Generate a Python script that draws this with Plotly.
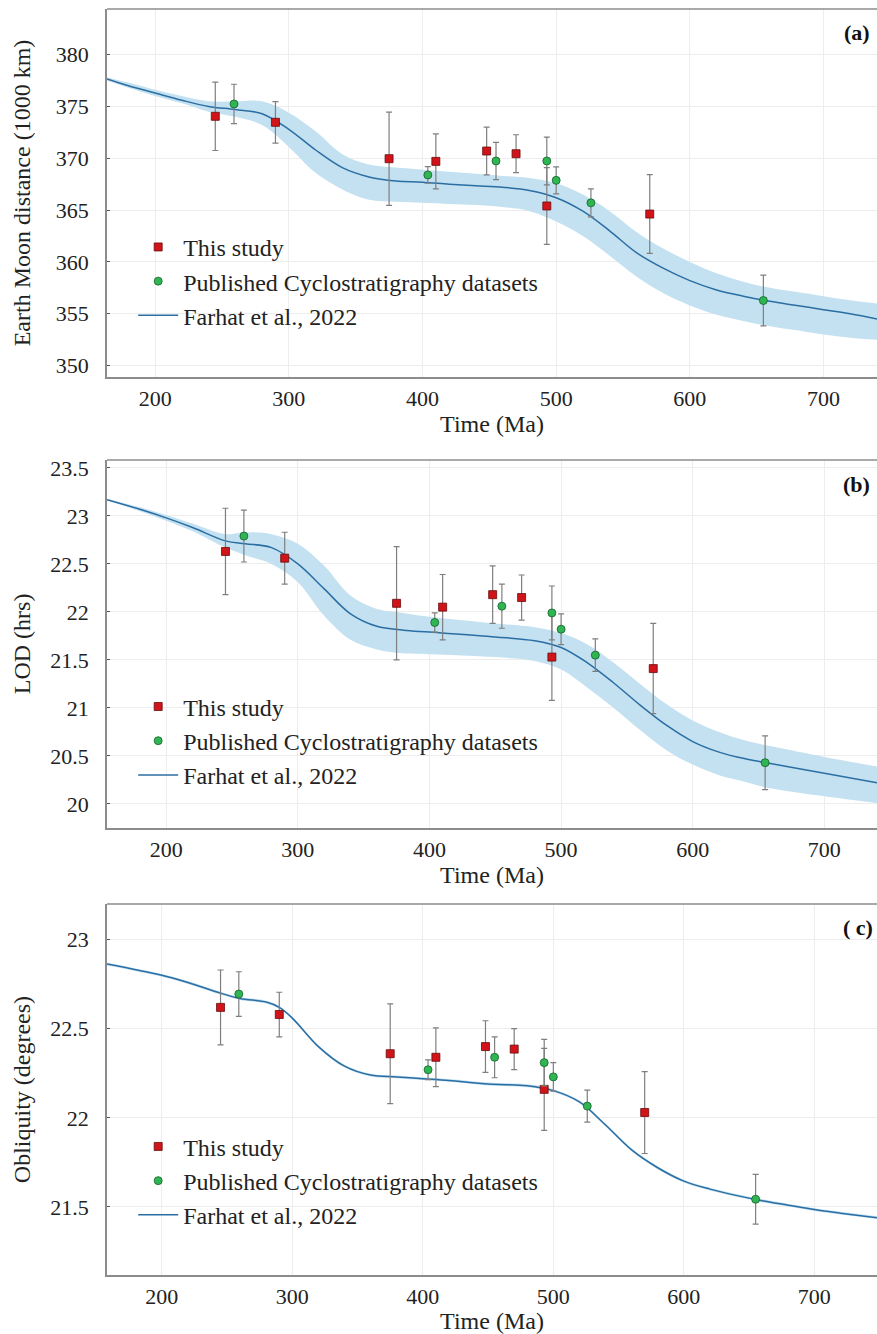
import plotly.graph_objects as go

# ---------------- data ----------------
# Farhat et al., 2022 model curves
age_a = [164, 180, 200, 220, 240, 260, 280, 300, 320, 340, 360, 380, 400, 420, 440,
         460, 480, 500, 520, 540, 560, 580, 600, 620, 640, 660, 680, 700, 720, 740]
dist_mid = [377.65, 377.0, 376.3, 375.6, 375.0, 374.7, 374.3, 372.8, 370.8, 369.1, 368.2, 367.8, 367.7, 367.5, 367.35,
            367.2, 366.9, 366.2, 364.9, 363.0, 360.9, 359.4, 358.2, 357.3, 356.7, 356.2, 355.8, 355.4, 355.0, 354.5]
dist_up = [377.8, 377.3, 376.6, 376.0, 375.5, 375.5, 375.5, 374.4, 372.6, 370.4, 369.4, 369.1, 368.9, 368.7, 368.5,
           368.3, 368.1, 367.6, 366.5, 364.9, 362.9, 361.3, 360.0, 358.9, 358.1, 357.5, 357.1, 356.7, 356.3, 356.0]
dist_lo = [377.5, 376.8, 376.0, 375.3, 374.5, 374.0, 373.2, 371.1, 368.6, 367.0, 366.0, 365.8, 365.7, 365.6, 365.5,
           365.3, 364.9, 363.9, 362.5, 360.6, 358.6, 357.0, 355.8, 354.9, 354.3, 353.8, 353.4, 353.0, 352.7, 352.5]

age_b = [155, 180, 200, 220, 245, 260, 280, 300, 320, 340, 360, 380, 400, 450, 480,
         500, 520, 540, 560, 580, 600, 620, 640, 660, 700, 740]
lod_mid = [23.17, 23.07, 22.98, 22.88, 22.74, 22.71, 22.67, 22.50, 22.24, 21.98, 21.85, 21.81, 21.79, 21.74, 21.70,
           21.63, 21.47, 21.26, 21.03, 20.82, 20.65, 20.54, 20.47, 20.42, 20.32, 20.22]
lod_up = [23.18, 23.09, 23.01, 22.92, 22.81, 22.83, 22.81, 22.71, 22.48, 22.17, 22.03, 21.99, 21.95, 21.88, 21.84,
          21.78, 21.66, 21.47, 21.25, 21.04, 20.87, 20.75, 20.66, 20.60, 20.49, 20.39]
lod_lo = [23.16, 23.05, 22.95, 22.84, 22.67, 22.59, 22.50, 22.31, 21.96, 21.71, 21.61, 21.57, 21.56, 21.53, 21.49,
          21.40, 21.21, 21.00, 20.77, 20.56, 20.41, 20.30, 20.23, 20.16, 20.08, 20.01]

age_c = [158, 200, 220, 245, 260, 280, 290, 300, 320, 340, 360, 380, 400, 420, 450,
         480, 500, 520, 540, 560, 580, 600, 620, 640, 660, 680, 700, 720, 748]
obl_mid = [22.863, 22.80, 22.76, 22.70, 22.67, 22.65, 22.62, 22.56, 22.40, 22.29, 22.24, 22.23, 22.22, 22.21, 22.19,
           22.18, 22.153, 22.09, 21.96, 21.82, 21.72, 21.645, 21.60, 21.565, 21.535, 21.51, 21.485, 21.465, 21.44]
obl_band = 0.008

# data points
age_this = [245, 290, 375, 410, 448, 470, 493, 570]
age_pub = [259, 404, 455, 493, 500, 526, 655]

dist_this = [374.05, 373.47, 369.96, 369.7, 370.7, 370.44, 365.4, 364.62]
dist_this_err = [3.3, 2.0, 4.5, 2.65, 2.3, 1.83, 3.7, 3.8]
dist_pub = [375.24, 368.39, 369.74, 369.74, 367.87, 365.7, 356.28]
dist_pub_err = [1.9, 0.8, 1.8, 2.3, 1.3, 1.35, 2.45]

lod_this = [22.63, 22.56, 22.09, 22.05, 22.18, 22.15, 21.53, 21.41]
lod_this_err = [0.45, 0.27, 0.59, 0.34, 0.30, 0.235, 0.45, 0.47]
lod_pub = [22.79, 21.89, 22.06, 21.99, 21.82, 21.55, 20.43]
lod_pub_err = [0.27, 0.10, 0.23, 0.28, 0.16, 0.17, 0.28]

obl_this = [22.62, 22.58, 22.36, 22.34, 22.40, 22.386, 22.16, 22.03]
obl_this_err = [0.21, 0.125, 0.28, 0.165, 0.145, 0.115, 0.23, 0.23]
obl_pub = [22.695, 22.27, 22.34, 22.31, 22.23, 22.066, 21.543]
obl_pub_err = [0.125, 0.055, 0.115, 0.13, 0.08, 0.09, 0.14]

panel_labels = ["<b>(a)</b>", "<b>(b)</b>", "<b>( c)</b>"]
y_titles = ["Earth Moon distance (1000 km)", "LOD (hrs)", "Obliquity (degrees)"]
x_title = "Time (Ma)"

# ---------------- style ----------------
FONT = "Liberation Serif"
LINE_C = "#2b6ea3"
BAND_C = "#c3e1f1"
RED = "#d0141a"
GREEN = "#2fb552"
ERR_C = "#7f7f7f"
AX_C = "#8c8c8c"
GRID_C = "#ededed"
TXT_C = "#222222"

fig = go.Figure()

panels = [
    dict(age=age_a, mid=dist_mid, up=dist_up, lo=dist_lo, this=dist_this, this_err=dist_this_err,
         pub=dist_pub, pub_err=dist_pub_err, xr=[164, 740], yr=[348.9, 384.4], dtick=5,
         dom=[0.7093, 1.0], legend="legend", std=18),
    dict(age=age_b, mid=lod_mid, up=lod_up, lo=lod_lo, this=lod_this, this_err=lod_this_err,
         pub=lod_pub, pub_err=lod_pub_err, xr=[155, 740], yr=[19.75, 23.583], dtick=0.5,
         dom=[0.3531, 0.6438], legend="legend2", std=13),
    dict(age=age_c, mid=obl_mid, up=[v + obl_band for v in obl_mid], lo=[v - obl_band for v in obl_mid],
         this=obl_this, this_err=obl_this_err, pub=obl_pub, pub_err=obl_pub_err,
         xr=[158, 748], yr=[21.118, 23.2], dtick=0.5, dom=[0.0, 0.2930], legend="legend3", std=13),
]

for i, p in enumerate(panels):
    xa = "x" if i == 0 else f"x{i+1}"
    ya = "y" if i == 0 else f"y{i+1}"
    # band
    fig.add_trace(go.Scatter(x=p["age"], y=p["up"], mode="lines", line=dict(width=0, color=BAND_C, shape="spline"),
                             showlegend=False, hoverinfo="skip", xaxis=xa, yaxis=ya))
    fig.add_trace(go.Scatter(x=p["age"], y=p["lo"], mode="lines", line=dict(width=0, color=BAND_C, shape="spline"),
                             fill="tonexty", fillcolor=BAND_C, showlegend=False, hoverinfo="skip",
                             xaxis=xa, yaxis=ya))
    # model line
    fig.add_trace(go.Scatter(x=p["age"], y=p["mid"], mode="lines", line=dict(width=1.5, color=LINE_C, shape="spline"),
                             name="Farhat et al., 2022", legend=p["legend"], legendgroup=f"f{i}", legendrank=3,
                             xaxis=xa, yaxis=ya))
    # this study
    fig.add_trace(go.Scatter(x=age_this, y=p["this"], mode="markers",
                             marker=dict(symbol="square", size=8, color=RED, line=dict(color="#6a0b0b", width=0.8)),
                             error_y=dict(type="data", array=p["this_err"], color=ERR_C, thickness=1.2, width=3),
                             name="This study", legend=p["legend"], legendgroup=f"t{i}", legendrank=1,
                             xaxis=xa, yaxis=ya))
    # published
    fig.add_trace(go.Scatter(x=age_pub, y=p["pub"], mode="markers",
                             marker=dict(symbol="circle", size=8, color=GREEN, line=dict(color="#17602b", width=0.8)),
                             error_y=dict(type="data", array=p["pub_err"], color=ERR_C, thickness=1.2, width=3),
                             name="Published Cyclostratigraphy datasets", legend=p["legend"], legendgroup=f"p{i}",
                             legendrank=2, xaxis=xa, yaxis=ya))

layout = dict(
    width=877, height=1334,
    margin=dict(l=107, r=0, t=9, b=59),
    paper_bgcolor="white", plot_bgcolor="white",
    font=dict(family=FONT, size=22, color=TXT_C),
    shapes=[], annotations=[],
)

legend_y = [0.8295, 0.4665, 0.1190]
for i, p in enumerate(panels):
    sfx = "" if i == 0 else str(i + 1)
    xa_name = "x" if i == 0 else f"x{i+1}"
    ya_name = "y" if i == 0 else f"y{i+1}"
    layout["xaxis" + sfx] = dict(
        domain=[0, 1], anchor=ya_name, range=p["xr"], dtick=100, tick0=0,
        showgrid=True, gridcolor=GRID_C, gridwidth=1, zeroline=False,
        showline=True, linecolor=AX_C, linewidth=1.5, mirror=False,
        ticks="", ticklabelstandoff=1,
        tickfont=dict(family=FONT, size=22, color=TXT_C),
        title=dict(text=x_title, font=dict(family=FONT, size=24, color=TXT_C), standoff=1),
    )
    layout["yaxis" + sfx] = dict(
        domain=p["dom"], anchor=xa_name, range=p["yr"], dtick=p["dtick"], tick0=0,
        showgrid=True, gridcolor=GRID_C, gridwidth=1, zeroline=False,
        showline=True, linecolor=AX_C, linewidth=1.5, mirror=False,
        ticks="inside", ticklen=3, tickcolor="#555555", ticklabelstandoff=12,
        tickfont=dict(family=FONT, size=22, color=TXT_C),
        title=dict(text=y_titles[i], font=dict(family=FONT, size=24, color=TXT_C), standoff=p["std"]),
    )
    layout["shapes"].append(dict(type="line", xref=f"{xa_name} domain", yref=f"{ya_name} domain",
                                 x0=0, x1=1, y0=1, y1=1, line=dict(color=AX_C, width=1.5)))
    layout["annotations"].append(dict(text=panel_labels[i], xref=f"{xa_name} domain", yref=f"{ya_name} domain",
                                      x=0.9935 if i < 2 else 0.997, y=[0.935, 0.932, 0.938][i], xanchor="right",
                                      yanchor="middle", showarrow=False,
                                      font=dict(family=FONT, size=22, color="#111111")))
    layout["legend" + sfx] = dict(
        x=0.034, y=legend_y[i], xref="paper", yref="paper", xanchor="left", yanchor="top",
        bgcolor="rgba(0,0,0,0)", borderwidth=0, tracegroupgap=3, itemwidth=40,
        font=dict(family=FONT, size=24, color=TXT_C), traceorder="normal",
    )

fig.update_layout(**layout)
fig.write_html("out.html", config={"displayModeBar": False},
               post_script="document.body.style.margin='0px';document.body.style.overflow='hidden';")
